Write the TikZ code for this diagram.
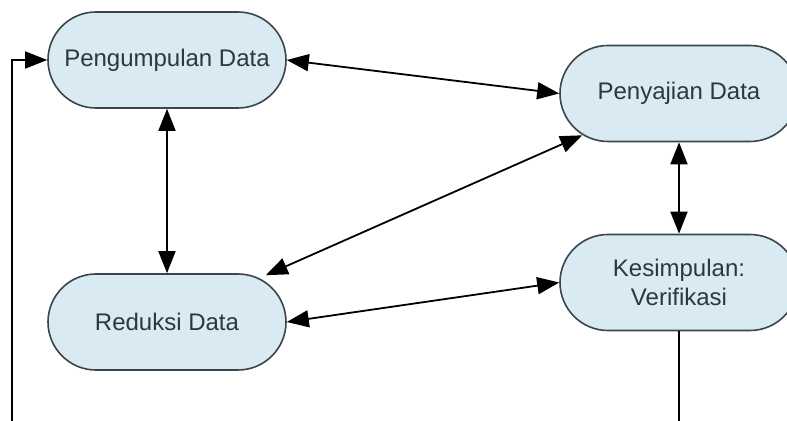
\documentclass[tikz,border=0pt]{standalone}
\usepackage{fontspec}
\setmainfont{Liberation Sans}
\usetikzlibrary{arrows.meta}
\definecolor{nodefill}{HTML}{DAEAF2}
\definecolor{nodeline}{HTML}{3A464C}
\definecolor{nodetext}{HTML}{2B3840}
\tikzset{
  stadium/.style={draw=nodeline, fill=nodefill, line width=0.8pt,
    rounded corners=24pt, minimum width=119pt, minimum height=48pt,
    inner sep=0pt, align=center, text=nodetext, font=\fontsize{12}{14.4}\selectfont},
  tip/.tip={Triangle[length=11pt,width=8.5pt]},
  link/.style={line width=0.9pt, tip-tip},
  loop/.style={line width=0.9pt, -tip}
}
\begin{document}
\begin{tikzpicture}[x=0.5pt, y=-0.5pt]
\clip (0,0) rectangle (787,421);
\fill[white] (0,0) rectangle (787,421);
\node[stadium] (pen) at (167,60) {Pengumpulan Data};
\node[stadium] (saj) at (679,93.5) {Penyajian Data};
\node[stadium] (red) at (167,322) {Reduksi Data};
\node[stadium] (kes) at (679,282.5) {Kesimpulan:\\Verifikasi};
\coordinate (bl) at (12,422);
\coordinate (br) at (679,422);
\coordinate (tl) at (12,60);
\draw[link] (pen.east) -- (saj.west);
\draw[link] (pen.south) -- (red.north);
\draw[link] ([xshift=11.5pt,yshift=3.5pt]saj.south west) -- ([xshift=-10.5pt,yshift=-1pt]red.north east);
\draw[link] (red.east) -- (kes.west);
\draw[link] (saj.south) -- (kes.north);
\draw[loop] (kes.south) -- (br) -- (bl) -- (tl) -- (pen.west);
\end{tikzpicture}
\end{document}
